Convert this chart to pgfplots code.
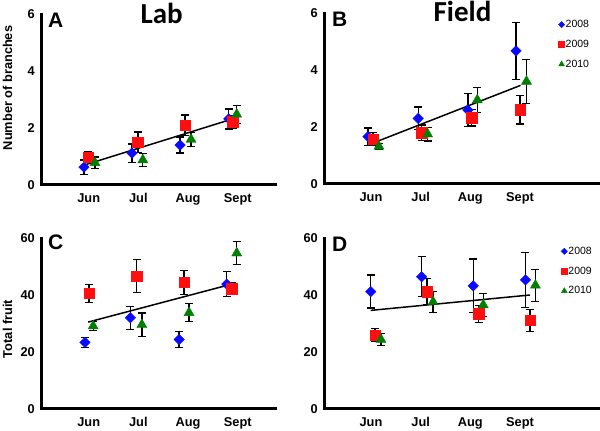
\documentclass[border=0pt]{standalone}
\usepackage{fontspec}
\setmainfont{Liberation Sans}
\newfontfamily\carlito{Carlito}
\usepackage{pgfplots}
\pgfplotsset{compat=1.18}
\definecolor{mblue}{RGB}{10,10,255}
\definecolor{mred}{RGB}{255,15,15}
\definecolor{mgreen}{RGB}{0,128,0}
\pgfplotsset{
  panel/.style={
    scale only axis, clip=false,
    axis lines=left,
    axis line style={-, line width=3pt, line cap=rect},
    major tick length=0pt,
    xtick={1,2,3,4}, xticklabels={Jun,Jul,Aug,Sept},
    tick label style={font=\bfseries\fontsize{12.8}{12.8}\selectfont},
    xticklabel style={anchor=north, inner sep=0pt, yshift=-8pt},
    yticklabel style={anchor=east, inner sep=0pt, xshift=-6pt},
    /pgf/number format/assume math mode=true,
    anchor=south west, height=171pt,
  },
  ebars/.style={error bars/y dir=both, error bars/y explicit,
    error bars/error bar style={black, line width=1.3pt},
    error bars/error mark options={black, line width=1.3pt, mark size=4pt, rotate=90}},
  s08/.style={only marks, mark=square*, mark size=3.7pt, mark options={rotate=45}, color=mblue, ebars, forget plot},
  s09/.style={only marks, mark=square*, mark size=5.2pt, color=mred, ebars, forget plot},
  s10/.style={only marks, mark=triangle*, mark size=5.8pt, color=mgreen, ebars, forget plot},
  trend/.style={black, line width=1.5pt, forget plot},
  leg/.style={legend style={draw=none, fill=none, font=\fontsize{10.5}{10.5}\selectfont,
     row sep=9pt, inner sep=0pt, nodes={inner sep=1pt}, anchor=north west},
     legend cell align=left},
  limg/.style={legend image code/.code={\draw[##1] plot coordinates {(0pt,0pt)};}},
}
\begin{document}
\begin{tikzpicture}[x=1pt,y=1pt]
\path[use as bounding box] (0,0) rectangle (600,431);
% Panel A
\begin{axis}[panel, at={(41pt,246pt)}, width=234pt, xmin=0.04, xmax=4.75, ymin=0, ymax=6, ytick={0,2,4,6}]
\addplot[s08] table[x=x,y=y,y error=e] {
x y e
0.905 0.63 0.25
1.87 1.12 0.32
2.84 1.40 0.28
3.82 2.32 0.35
};
\addplot[s09] table[x=x,y=y,y error=e] {
x y e
0.986 0.98 0.20
1.99 1.50 0.36
2.94 2.10 0.36
3.90 2.22 0.22
};
\addplot[s10] table[x=x,y=y,y error=e] {
x y e
1.127 0.78 0.20
2.09 0.88 0.22
3.06 1.60 0.25
3.98 2.48 0.32
};
\addplot[trend] coordinates {(0.95,0.72) (3.90,2.32)};
\end{axis}
% Panel B
\begin{axis}[panel, leg, at={(324pt,247pt)}, width=274pt, xmin=0.054, xmax=5.57, ymin=0, ymax=6, ytick={0,2,4,6},
  legend style={at={(0.855,0.965)}}]
\addlegendimage{limg, mark=square*, mark size=2.2pt, mark options={rotate=45}, color=mblue}
\addlegendentry{2008}
\addlegendimage{limg, mark=square*, mark size=3pt, color=mred}
\addlegendentry{2009}
\addlegendimage{limg, mark=triangle*, mark size=3.3pt, color=mgreen}
\addlegendentry{2010}
\addplot[s08] table[x=x,y=y,y error=e] {
x y e
0.94 1.66 0.30
1.95 2.30 0.40
2.95 2.60 0.58
3.92 4.67 1.00
};
\addplot[s09] table[x=x,y=y,y error=e] {
x y e
1.04 1.58 0.22
2.02 1.80 0.27
3.03 2.32 0.29
4.00 2.60 0.50
};
\addplot[s10] table[x=x,y=y,y error=e] {
x y e
1.16 1.32 0.10
2.14 1.75 0.24
3.14 2.95 0.43
4.13 3.60 0.77
};
\addplot[trend] coordinates {(1.0,1.41) (4.01,3.46)};
\end{axis}
% Panel C
\begin{axis}[panel, at={(41pt,22pt)}, width=234pt, xmin=0.04, xmax=4.75, ymin=0, ymax=60, ytick={0,20,40,60}]
\addplot[s08] table[x=x,y=y,y error=e] {
x y e
0.925 23.4 1.8
1.84 32.0 4.0
2.82 24.4 2.8
3.78 43.8 4.4
};
\addplot[s09] table[x=x,y=y,y error=e] {
x y e
1.006 40.6 3.2
1.965 46.7 5.7
2.92 44.4 4.2
3.88 42.2 2.0
};
\addplot[s10] table[x=x,y=y,y error=e] {
x y e
1.09 29.1 1.6
2.07 29.6 4.1
3.02 33.8 3.2
3.98 54.7 4.0
};
\addplot[trend] coordinates {(0.99,30.5) (3.94,44.1)};
\end{axis}
% Panel D
\begin{axis}[panel, leg, at={(324pt,22pt)}, width=274pt, xmin=0.054, xmax=5.57, ymin=0, ymax=60, ytick={0,20,40,60},
  legend style={at={(0.865,0.955)}}]
\addlegendimage{limg, mark=square*, mark size=2.2pt, mark options={rotate=45}, color=mblue}
\addlegendentry{2008}
\addlegendimage{limg, mark=square*, mark size=3pt, color=mred}
\addlegendentry{2009}
\addlegendimage{limg, mark=triangle*, mark size=3.3pt, color=mgreen}
\addlegendentry{2010}
\addplot[s08] table[x=x,y=y,y error=e] {
x y e
0.994 41.2 5.8
2.02 46.4 7.0
3.06 43.2 9.4
4.11 45.3 9.6
};
\addplot[s09] table[x=x,y=y,y error=e] {
x y e
1.08 25.9 2.3
2.13 41.2 4.6
3.17 33.4 3.0
4.20 31.1 3.8
};
\addplot[s10] table[x=x,y=y,y error=e] {
x y e
1.20 24.4 2.2
2.25 37.6 3.7
3.26 36.5 4.0
4.31 43.4 5.6
};
\addplot[trend] coordinates {(0.994,34.6) (4.2,40.0)};
\end{axis}
% Labels
\node[rotate=90, font=\bfseries\fontsize{12.8}{12.8}\selectfont] at (7.5,343) {Number of branches};
\node[rotate=90, font=\bfseries\fontsize{12.8}{12.8}\selectfont] at (7.5,102) {Total fruit};
\node[font=\carlito\bfseries\fontsize{29}{29}\selectfont, anchor=base] at (161.7,407) {Lab};
\node[font=\carlito\bfseries\fontsize{29}{29}\selectfont, anchor=base] at (462.5,409) {Field};
\node[font=\bfseries\fontsize{21}{21}\selectfont, anchor=base west, inner sep=0pt] at (48,403) {A};
\node[font=\bfseries\fontsize{21}{21}\selectfont, anchor=base west, inner sep=0pt] at (332,404) {B};
\node[font=\bfseries\fontsize{21}{21}\selectfont, anchor=base west, inner sep=0pt] at (48,181) {C};
\node[font=\bfseries\fontsize{21}{21}\selectfont, anchor=base west, inner sep=0pt] at (332,179) {D};
\end{tikzpicture}
\end{document}
